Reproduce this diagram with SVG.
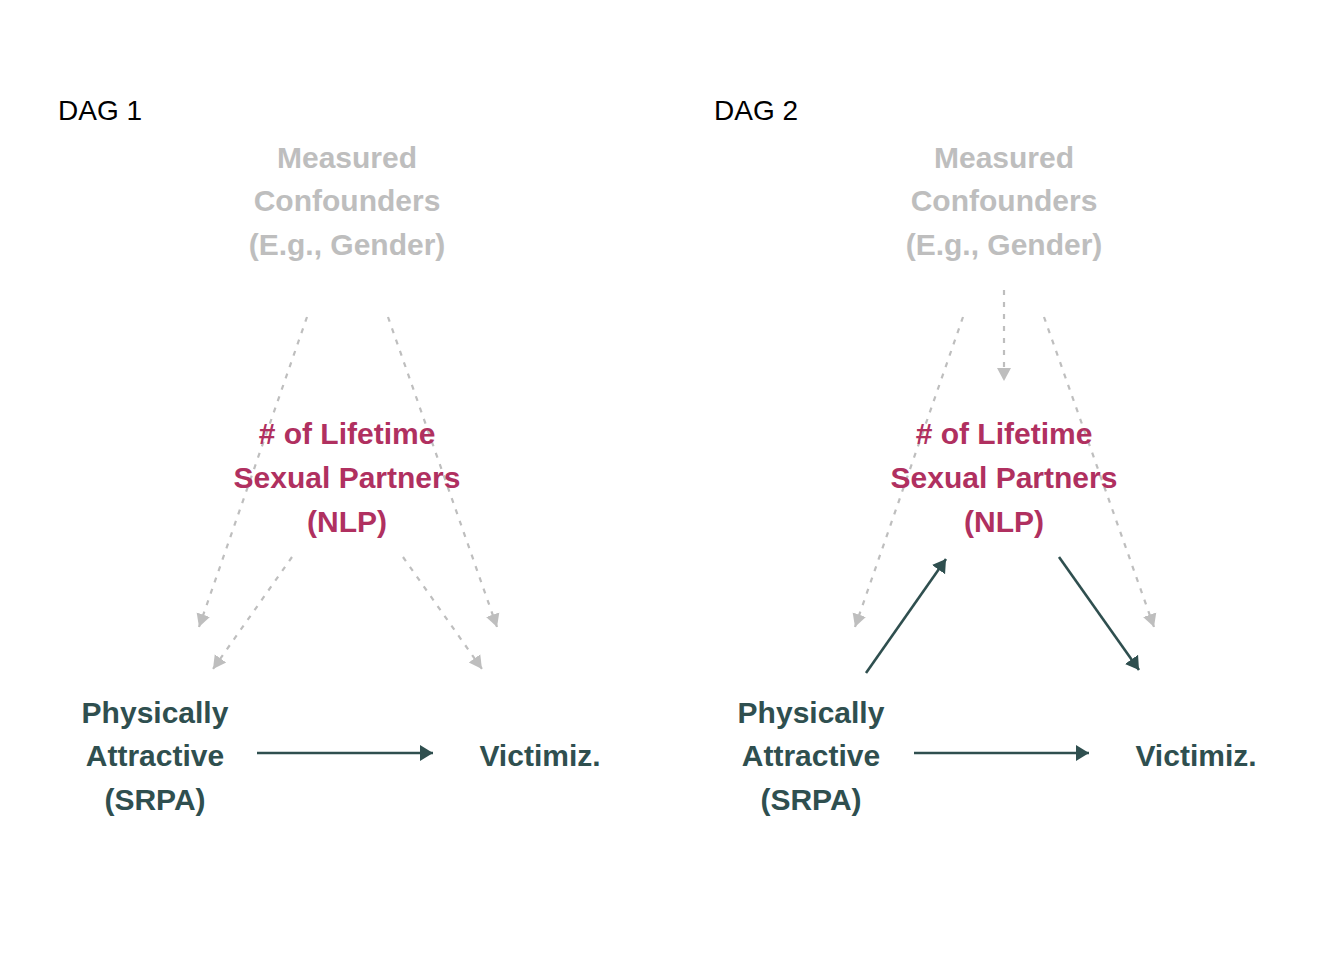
<svg xmlns="http://www.w3.org/2000/svg" width="1344" height="960" viewBox="0 0 1344 960">
<style>
text{font-family:"Liberation Sans",Arial,sans-serif;text-anchor:middle}
.title{font-size:28px;fill:#000;text-anchor:start}
.node{font-size:30px;font-weight:bold}
.conf{fill:#BEBEBE}
.nlp{fill:#B03060}
.main{fill:#2F4F4F}
.dash{stroke:#BEBEBE;stroke-width:2.2;stroke-dasharray:5 7;fill:none}
.solid{stroke:#2F4F4F;stroke-width:2.6;fill:none}
</style>
<defs>
<marker id="ag" markerUnits="userSpaceOnUse" viewBox="0 -8 14 16" refX="13" refY="0" markerWidth="14" markerHeight="16" orient="auto"><path d="M0,-7 L13,0 L0,7 Z" fill="#BEBEBE"/></marker>
<marker id="ad" markerUnits="userSpaceOnUse" viewBox="0 -9 14 18" refX="13" refY="0" markerWidth="14" markerHeight="18" orient="auto"><path d="M0,-8 L13,0 L0,8 Z" fill="#2F4F4F"/></marker>
</defs>
<rect width="1344" height="960" fill="#fff"/>
<text class="title" x="58" y="120">DAG 1</text>
<text class="title" x="714" y="120">DAG 2</text>
<g id="connectors">
<line class="dash" x1="307" y1="317" x2="199" y2="627" marker-end="url(#ag)"/>
<line class="dash" x1="388" y1="317" x2="497" y2="627" marker-end="url(#ag)"/>
<line class="dash" x1="292" y1="557" x2="213" y2="669" marker-end="url(#ag)"/>
<line class="dash" x1="403" y1="557" x2="482" y2="669" marker-end="url(#ag)"/>
<line class="solid" x1="257" y1="753" x2="433" y2="753" marker-end="url(#ad)"/>
<line class="dash" x1="963" y1="317" x2="855" y2="627" marker-end="url(#ag)"/>
<line class="dash" x1="1004" y1="290" x2="1004" y2="381" marker-end="url(#ag)"/>
<line class="dash" x1="1044" y1="317" x2="1154" y2="627" marker-end="url(#ag)"/>
<line class="solid" x1="866" y1="673" x2="946" y2="559" marker-end="url(#ad)"/>
<line class="solid" x1="1059" y1="557" x2="1139" y2="670" marker-end="url(#ad)"/>
<line class="solid" x1="914" y1="753" x2="1089" y2="753" marker-end="url(#ad)"/>
</g>
<g id="dag1-conf" class="node conf"><text x="347" y="168">Measured</text><text x="347" y="211">Confounders</text><text x="347" y="255">(E.g., Gender)</text></g>
<g id="dag1-nlp" class="node nlp"><text x="347" y="444"># of Lifetime</text><text x="347" y="488">Sexual Partners</text><text x="347" y="532">(NLP)</text></g>
<g id="dag1-srpa" class="node main"><text x="155" y="723">Physically</text><text x="155" y="766">Attractive</text><text x="155" y="810">(SRPA)</text></g>
<g id="dag1-vict" class="node main"><text x="540" y="766">Victimiz.</text></g>
<g id="dag2-conf" class="node conf"><text x="1004" y="168">Measured</text><text x="1004" y="211">Confounders</text><text x="1004" y="255">(E.g., Gender)</text></g>
<g id="dag2-nlp" class="node nlp"><text x="1004" y="444"># of Lifetime</text><text x="1004" y="488">Sexual Partners</text><text x="1004" y="532">(NLP)</text></g>
<g id="dag2-srpa" class="node main"><text x="811" y="723">Physically</text><text x="811" y="766">Attractive</text><text x="811" y="810">(SRPA)</text></g>
<g id="dag2-vict" class="node main"><text x="1196" y="766">Victimiz.</text></g>
</svg>
